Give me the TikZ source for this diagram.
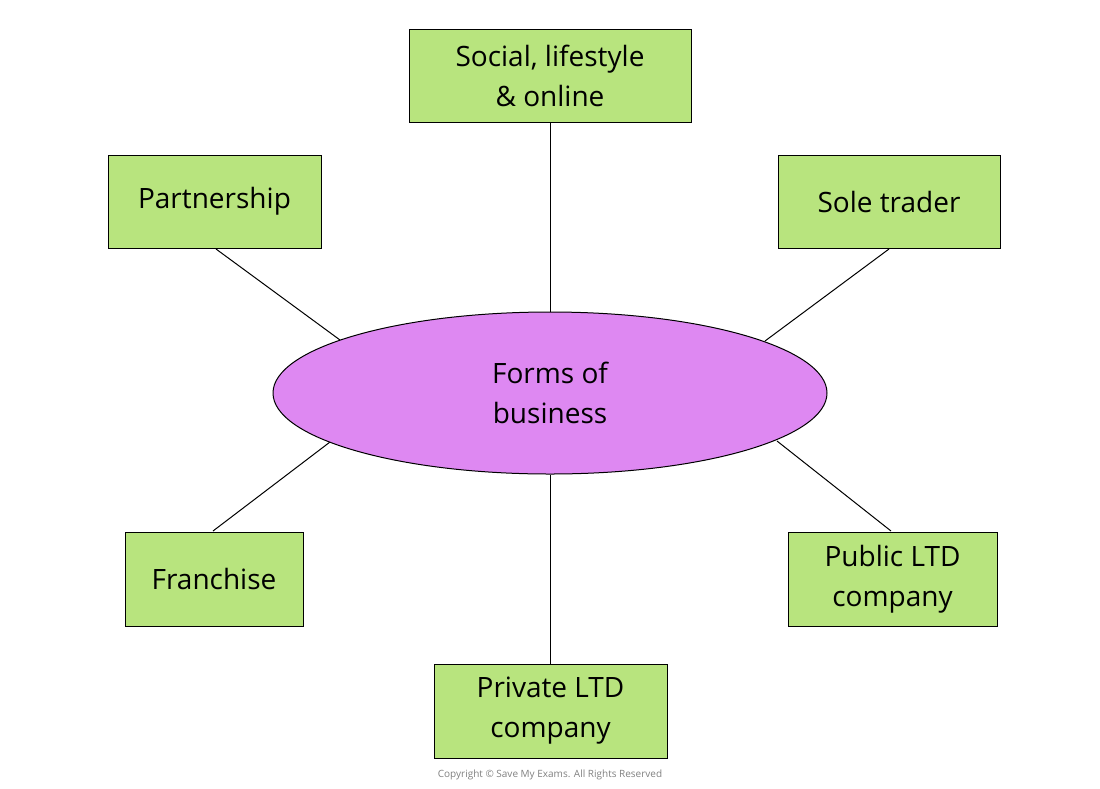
\documentclass[tikz,border=0pt]{standalone}
\usepackage{fontspec}
\setmainfont{Open Sans}
\usetikzlibrary{shapes.geometric}
\definecolor{boxg}{HTML}{B8E47E}
\definecolor{ellp}{HTML}{DE88F2}
\begin{document}
\begin{tikzpicture}[x=1pt,y=-1pt,
  box/.style={draw=black,line width=1pt,fill=boxg,minimum height=93pt,align=center,inner sep=0pt,font=\fontsize{28}{40}\selectfont},
  conn/.style={line width=1pt}]
\useasboundingbox (0,0) rectangle (1100,788);
\coordinate (pe) at (340,340);
\coordinate (se) at (765,341);
\coordinate (fe) at (330,442);
\coordinate (ue) at (777,441);
\coordinate (pa) at (216,249);
\coordinate (sa) at (889,249);
\coordinate (fa) at (213,531);
\coordinate (ua) at (891,531);
\draw[conn] (pa) -- (pe);
\draw[conn] (sa) -- (se);
\draw[conn] (fa) -- (fe);
\draw[conn] (ua) -- (ue);
\node[ellipse,draw,line width=1pt,fill=ellp,minimum width=554pt,minimum height=162pt,align=center,inner sep=0pt,font=\fontsize{28}{40}\selectfont] (ell) at (550,393) {Forms of\\business};
\node[box,minimum width=282pt] (soc) at (550,75.5) {Social, lifestyle\\\& online};
\node[box,minimum width=213pt] (part) at (214.5,201.5) {Partnership};
\node[box,minimum width=222pt] (sole) at (889,201.5) {Sole trader};
\node[box,minimum width=178pt,minimum height=94pt] (fran) at (214,579) {Franchise};
\node[box,minimum width=209pt,minimum height=94pt] (pub) at (892.5,579) {Public LTD\\company};
\node[box,minimum width=233pt,minimum height=94pt] (priv) at (550.5,711) {Private LTD\\company};
\node[font=\fontsize{10}{12}\selectfont,text=gray] (copy) at (550,775) {Copyright © Save My Exams. All Rights Reserved};
\draw[conn] (soc.south) -- (ell.north);
\draw[conn] (priv.north -| ell.south) -- (ell.south);
\end{tikzpicture}
\end{document}
